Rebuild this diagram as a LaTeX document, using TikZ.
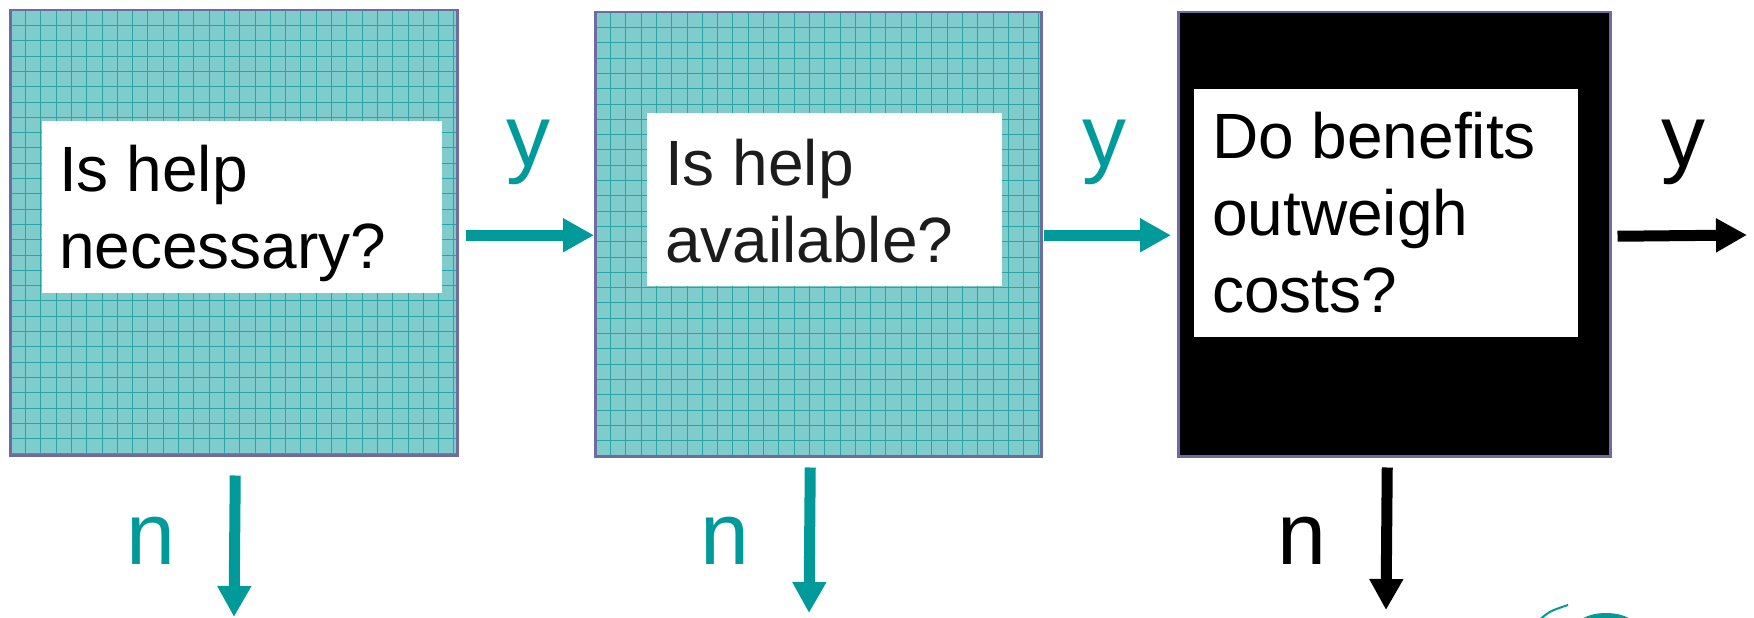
\documentclass[tikz,border=0pt]{standalone}
\usepackage{fontspec}
\setmainfont{Liberation Sans}
\usetikzlibrary{arrows.meta}
\definecolor{arrowteal}{HTML}{009A9A}
\definecolor{boxteal}{HTML}{80CCCC}
\definecolor{gridteal}{HTML}{2AA5A5}
\definecolor{frame}{HTML}{6C6CA0}
\definecolor{textdark}{HTML}{1C1C1C}
\begin{document}
\begin{tikzpicture}[x=1pt,y=-1pt,
  gridbox/.style={draw=frame, line width=2.5pt, fill=boxteal, inner sep=0pt, anchor=north west,
    path picture={
      \foreach \k in {1,...,29}{
        \draw[gridteal, line width=1pt] ([xshift=\k*15.3pt]path picture bounding box.north west) -- ([xshift=\k*15.3pt]path picture bounding box.south west);
        \draw[gridteal, line width=1pt] ([yshift=-\k*15.3pt]path picture bounding box.north west) -- ([yshift=-\k*15.3pt]path picture bounding box.north east);
      }}},
  blackbox/.style={draw=frame, line width=2.5pt, fill=black, inner sep=0pt, anchor=north west},
  whitebox/.style={fill=white, draw=none, inner sep=0pt, anchor=north west},
  qtext/.style={font=\fontsize{64}{77}\selectfont, align=left, inner sep=0pt, anchor=north west},
  lbl/.style={font=\fontsize{88}{100}\selectfont, inner sep=0pt, anchor=base},
  tealarrow/.style={draw=arrowteal, line width=11pt, -{Triangle[length=31pt,width=32pt]}},
  blackarrow/.style={draw=black, line width=11pt, -{Triangle[length=31pt,width=32pt]}}
]
\useasboundingbox (0,0) rectangle (1754,618);

% boxes
\node[gridbox, minimum width=447pt, minimum height=445pt] (b1) at (9,9) {};
\node[gridbox, minimum width=446pt, minimum height=444pt] (b2) at (594,11) {};
\node[blackbox, minimum width=432pt, minimum height=444pt] (b3) at (1177,11) {};

% white panels
\node[whitebox, minimum width=400pt, minimum height=172pt] (w1) at (42,121) {};
\node[whitebox, minimum width=355pt, minimum height=173pt] (w2) at (647,113) {};
\node[whitebox, minimum width=384pt, minimum height=248pt] (w3) at (1194,89) {};

% texts
\node[qtext, text=black] (t1) at (59,145) {Is help\\necessary?};
\node[qtext, text=textdark] (t2) at (665,139) {Is help\\available?};
\node[qtext, text=black] (t3) at (1212,112) {Do benefits\\outweigh\\costs?};

% end coordinates
\coordinate (e3) at (1747,235);
\coordinate (d1) at (234,617);
\coordinate (d2) at (809,613);
\coordinate (d3) at (1386,610);

% arrows
\draw[tealarrow] ([shift={(7pt,-2.5pt)}]b1.east) -- ([yshift=-1pt]b2.west);
\draw[tealarrow] ([shift={(1pt,-1pt)}]b2.east) -- ([shift={(-6pt,-1pt)}]b3.west);
\draw[blackarrow] ([shift={(6pt,-2pt)}]b3.east) -- (e3);
\draw[tealarrow] ([shift={(1.5pt,-19pt)}]b1.south) -- (d1);
\draw[tealarrow] ([shift={(-8pt,-10pt)}]b2.south) -- (d2);
\draw[blackarrow] ([shift={(-7pt,-10pt)}]b3.south) -- (d3);

% labels
\node[lbl, text=arrowteal] (y1) at (528,166) {y};
\node[lbl, text=arrowteal] (y2) at (1104,166) {y};
\node[lbl, text=black] (y3) at (1683,166) {y};
\node[lbl, text=arrowteal] (n1) at (151,564) {n};
\node[lbl, text=arrowteal] (n2) at (725,564) {n};
\node[lbl, text=black] (n3) at (1302,564) {n};

% partial logo at bottom right
\fill[arrowteal] (1606,631) ellipse (33 and 18);
\draw[arrowteal, line width=2pt] (1538,621) .. controls (1550,611) .. (1568,605);
\end{tikzpicture}
\end{document}
